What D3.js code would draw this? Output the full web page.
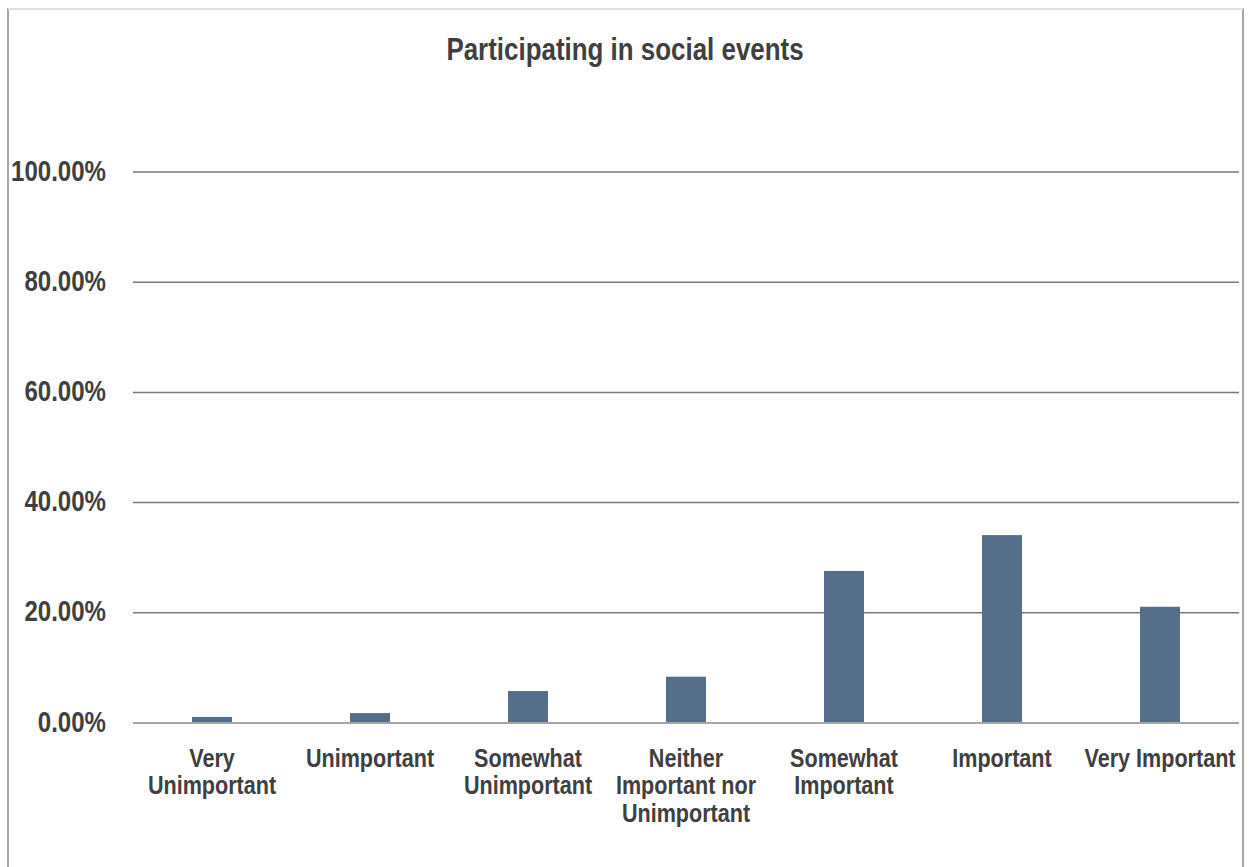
<!DOCTYPE html>
<html>
<head>
<meta charset="utf-8">
<script src="https://cdn.jsdelivr.net/npm/d3@7"></script>
<style>
  html, body { margin: 0; padding: 0; background: #ffffff; }
  svg { display: block; }
  .lbl { font-family: "Liberation Sans", Arial, sans-serif; font-weight: bold; fill: #404040; }
</style>
</head>
<body>
<svg id="chart" width="1251" height="867"></svg>
<script>
const title = "Participating in social events";
const categories = [
  ["Very", "Unimportant"],
  ["Unimportant"],
  ["Somewhat", "Unimportant"],
  ["Neither", "Important nor", "Unimportant"],
  ["Somewhat", "Important"],
  ["Important"],
  ["Very Important"]
];
const values = [0.011, 0.018, 0.058, 0.084, 0.276, 0.341, 0.211];
const yTicks = [0, 0.2, 0.4, 0.6, 0.8, 1.0];

const svg = d3.select("#chart");
const plot = { left: 133, right: 1239, top: 172, bottom: 723 };
const narrow = 0.83;

// outer frame
svg.append("rect").attr("x", 8).attr("y", 9).attr("width", 1235).attr("height", 870)
  .attr("fill", "none").attr("stroke", "#8c8c8c").attr("stroke-width", 1.5);
svg.append("line").attr("x1", 8).attr("x2", 1243).attr("y1", 9).attr("y2", 9)
  .attr("stroke", "#f4f4f4").attr("stroke-width", 1.6);

const x = d3.scaleBand().domain(d3.range(categories.length))
  .range([plot.left, plot.right]).paddingInner(0.747).paddingOuter(0.3735);
const y = d3.scaleLinear().domain([0, 1]).range([plot.bottom, plot.top]);

// gridlines
svg.append("g").selectAll("line").data(yTicks.filter(d => d > 0)).join("line")
  .attr("x1", plot.left).attr("x2", plot.right)
  .attr("y1", d => y(d)).attr("y2", d => y(d))
  .attr("stroke", "#7a7a7a").attr("stroke-width", 1.5);

// bars
svg.append("g").selectAll("rect").data(values).join("rect")
  .attr("x", (d, i) => x(i)).attr("width", x.bandwidth())
  .attr("y", d => y(d)).attr("height", d => y(0) - y(d))
  .attr("fill", "#546e8a");

// baseline
svg.append("line").attr("x1", plot.left).attr("x2", plot.right)
  .attr("y1", y(0)).attr("y2", y(0))
  .attr("stroke", "#a6a6a6").attr("stroke-width", 2);

// y tick labels
const fmt = d3.format(".2%");
svg.append("g").selectAll("text").data(yTicks).join("text")
  .attr("class", "lbl")
  .attr("transform", d => `translate(106,${y(d) + 8.5}) scale(${narrow},1)`)
  .attr("text-anchor", "end")
  .style("font-size", "29px")
  .text(d => fmt(d));

// x category labels
const xl = svg.append("g").selectAll("text").data(categories).join("text")
  .attr("class", "lbl")
  .attr("text-anchor", "middle")
  .attr("transform", (d, i) => `translate(${x(i) + x.bandwidth() / 2},767) scale(${narrow},1)`)
  .style("font-size", "26px");
xl.selectAll("tspan").data(d => d).join("tspan")
  .attr("x", 0)
  .attr("dy", (d, i) => i === 0 ? 0 : 27.5)
  .text(d => d);

// title
svg.append("text").attr("class", "lbl")
  .attr("transform", `translate(625,59.5) scale(0.85,1)`)
  .attr("text-anchor", "middle")
  .style("font-size", "30.5px")
  .text(title);
</script>
</body>
</html>
